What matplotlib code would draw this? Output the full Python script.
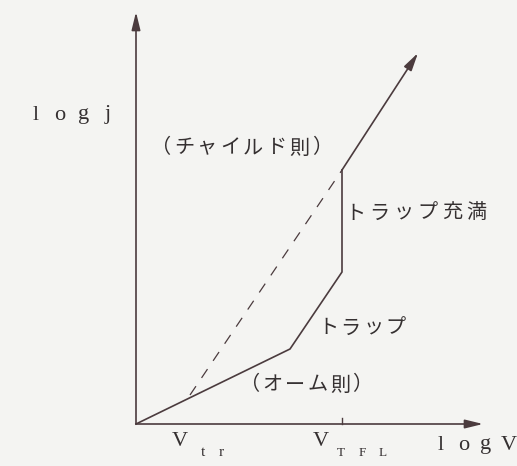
import matplotlib
matplotlib.use("Agg")
import matplotlib.pyplot as plt

# schematic log j - log V curve (arbitrary log units)
log_v = [0.0, 1.54, 2.06, 2.06, 2.82]
log_j = [0.0, 0.75, 1.52, 2.54, 3.71]
# Child's law guide line (dashed)
child_v = [0.54, 2.06]
child_j = [0.29, 2.54]
v_tfl = 2.06

bg = "#f4f4f2"
ink = "#4b3b3e"
txt = "#353031"
jp = ["Noto Sans CJK JP", "DejaVu Sans"]
serif = ["Liberation Serif", "DejaVu Serif"]

fig = plt.figure(figsize=(5.17, 4.66), dpi=100, facecolor=bg)
ax = fig.add_axes([0, 0, 1, 1])
ax.set_facecolor(bg)
ax.set_xlim(-1.36, 3.81)
ax.set_ylim(-0.42, 4.24)
ax.axis("off")


def spaced(x, y, s, step, **kw):
    # draw each character on its own cell, typewriter style
    for i, ch in enumerate(s):
        if ch != " ":
            ax.text(x + i * step, y, ch, ha="center", va="center", color=txt, **kw)


arrow = dict(arrowstyle="-|>,head_length=0.9,head_width=0.22", color=ink,
             lw=1.2, mutation_scale=12, shrinkA=0, shrinkB=0)

# axes with arrow heads
ax.annotate("", xy=(0, 4.12), xytext=(0, 0), arrowprops=arrow)
ax.annotate("", xy=(3.47, 0), xytext=(0, 0), arrowprops=arrow)
ax.plot([v_tfl, v_tfl], [0, 0.06], color=ink, lw=1.0)

# curve: ohmic -> trap -> trap-filled jump -> trap-free
ax.plot(log_v[:-1], log_j[:-1], color=ink, lw=1.2, solid_joinstyle="miter")
ax.annotate("", xy=(log_v[-1], log_j[-1]), xytext=(log_v[-2], log_j[-2]),
            arrowprops=arrow)
ax.plot(child_v, child_j, color=ink, lw=0.9, dashes=(8.5, 8))

# labels
spaced(-1.0, 3.09, "logj", 0.24, family=serif, fontsize=16)
spaced(0.25, 2.76, "（チャイルド則）", 0.23, family=jp, fontsize=14.5)
spaced(2.19, 2.11, "トラップ充満", 0.243, family=jp, fontsize=14.5)
spaced(1.92, 0.96, "トラップ", 0.225, family=jp, fontsize=14.5)
spaced(1.14, 0.39, "（オーム則）", 0.225, family=jp, fontsize=14.5)

spaced(0.44, -0.18, "V", 0.2, family=serif, fontsize=16)
spaced(0.67, -0.28, "tr", 0.18, family=serif, fontsize=11)
spaced(1.85, -0.17, "V", 0.2, family=serif, fontsize=16)
spaced(2.05, -0.29, "TFL", 0.21, family=serif, fontsize=9.5)
spaced(3.05, -0.21, "logV", 0.225, family=serif, fontsize=16)

fig.savefig("out.png", dpi=100, facecolor=bg)
